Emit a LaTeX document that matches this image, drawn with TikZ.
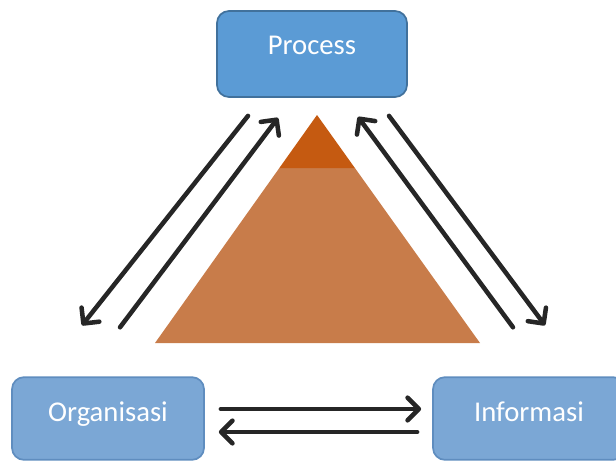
\documentclass[tikz,border=0pt]{standalone}
\usepackage{fontspec}
\setmainfont{Carlito}
\usepackage{tikz}
\usetikzlibrary{positioning,arrows.meta,calc}
\usepackage{xcolor}
\definecolor{boxBlue}{HTML}{5B9BD5}
\definecolor{boxEdge}{HTML}{41719C}
\definecolor{boxPale}{HTML}{7BA7D5}
\definecolor{edgePale}{HTML}{5F8DBF}
\definecolor{pyrTop}{HTML}{C55A11}
\definecolor{pyrBody}{HTML}{C87C4A}
\definecolor{flowInk}{HTML}{262626}

\begin{document}
\begin{tikzpicture}[x=0.75pt, y=-0.75pt,
        roleBox/.style={rectangle, rounded corners=9pt, line width=1.3pt, text=white, font=\fontsize{21.5}{26}\selectfont, inner sep=0pt, text height=14pt, minimum width=#1},
        roleBox/.default=144pt,
        flowArrow/.style={draw=flowInk, line width=3.4pt, line cap=round, -{Straight Barb[length=8.5pt, width=17pt, line cap=round, line join=round]}}
    ]
        \useasboundingbox (0,0) rectangle (616,461);

        % Top: Process
        \node[roleBox=142.5pt, draw=boxEdge, fill=boxBlue, minimum height=64.5pt, text depth=14pt] (proc) at (312,54) {Process};

        % Bottom left and right
        \node[roleBox, draw=edgePale, fill=boxPale, minimum height=62pt, text depth=9pt] (orga) at (108,418.5) {Organisasi};
        \node[roleBox, draw=edgePale, fill=boxPale, minimum height=62pt, text depth=9pt] (info) at (529,418.5) {Informasi};

        % Pyramid
        \coordinate (apex) at (317,115);
        \coordinate (baseL) at (155,343);
        \coordinate (baseR) at (480,343);
        \coordinate (cutL) at ($(apex)!0.2325!(baseL)$);
        \coordinate (cutR) at ($(apex)!0.2325!(baseR)$);
        \fill[pyrBody] (cutL) -- (cutR) -- (baseR) -- (baseL) -- cycle;
        \fill[pyrTop] (apex) -- (cutR) -- (cutL) -- cycle;

        % Connector ends
        \coordinate (pLo) at ([shift={(-64,18)}]proc.south);
        \coordinate (pLi) at ([shift={(-34,20)}]proc.south);
        \coordinate (pRi) at ([shift={(46,19)}]proc.south);
        \coordinate (pRo) at ([shift={(77,18)}]proc.south);
        \coordinate (oLo) at ([shift={(-26,-51)}]orga.north);
        \coordinate (oLi) at ([shift={(12,-49)}]orga.north);
        \coordinate (iRi) at ([shift={(-16,-49)}]info.north);
        \coordinate (iRo) at ([shift={(16,-51)}]info.north);
        \coordinate (oUp) at ([shift={(16,-9.5)}]orga.east);
        \coordinate (oDn) at ([shift={(14,13.5)}]orga.east);
        \coordinate (iUp) at ([shift={(-11,-9.5)}]info.west);
        \coordinate (iDn) at ([shift={(-15,13.5)}]info.west);

        \draw[flowArrow] (pLo) -- (oLo);
        \draw[flowArrow] (oLi) -- (pLi);
        \draw[flowArrow] (iRi) -- (pRi);
        \draw[flowArrow] (pRo) -- (iRo);
        \draw[flowArrow] (oUp) -- (iUp);
        \draw[flowArrow] (iDn) -- (oDn);
    \end{tikzpicture}
\end{document}
